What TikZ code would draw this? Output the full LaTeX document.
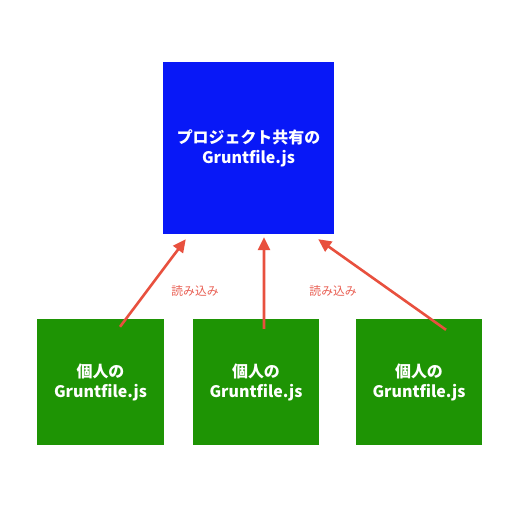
\documentclass[tikz,border=0pt]{standalone}
\usepackage{fontspec}
\setmainfont{Noto Sans CJK JP}
\usetikzlibrary{arrows.meta,positioning}
\definecolor{boxblue}{RGB}{8,24,247}
\definecolor{boxgreen}{RGB}{30,148,4}
\definecolor{arrred}{RGB}{232,80,62}
\definecolor{lblred}{RGB}{232,92,80}

\begin{document}
\begin{tikzpicture}[x=1bp, y=-1bp,
  box/.style={rectangle, inner sep=0pt, align=center, text=white, font=\fontsize{16}{20}\selectfont\bfseries},
  arr/.style={-{Triangle[length=13bp,width=12bp]}, line width=2.6bp, draw=arrred},
  lbl/.style={text=lblred, font=\fontsize{11.8}{13}\selectfont}
]
\useasboundingbox (0,0) rectangle (512,512);
\node[box, fill=boxblue, minimum width=171bp, minimum height=172bp] (shared) at (248.5,148) {プロジェクト共有の\\Gruntfile.js};

\node[box, fill=boxgreen, minimum width=127bp, minimum height=126bp] (mine1) at (100.5,382) {個人の\\Gruntfile.js};
\node[box, fill=boxgreen, minimum width=126bp, minimum height=126bp] (mine2) at (256,382) {個人の\\Gruntfile.js};
\node[box, fill=boxgreen, minimum width=126bp, minimum height=126bp] (mine3) at (419,382) {個人の\\Gruntfile.js};

\node[lbl] (read1) at (195,291) {読み込み};
\node[lbl] (read2) at (333,291) {読み込み};

\draw[arr] ([shift={(19.5bp,-8bp)}]mine1.north) -- ([shift={(23bp,-5bp)}]shared.south west);
\draw[arr] ([shift={(8bp,-10bp)}]mine2.north) -- ([shift={(15.5bp,-3bp)}]shared.south);
\draw[arr] ([shift={(27bp,-11bp)}]mine3.north) -- ([shift={(-16bp,-5bp)}]shared.south east);
\end{tikzpicture}
\end{document}
